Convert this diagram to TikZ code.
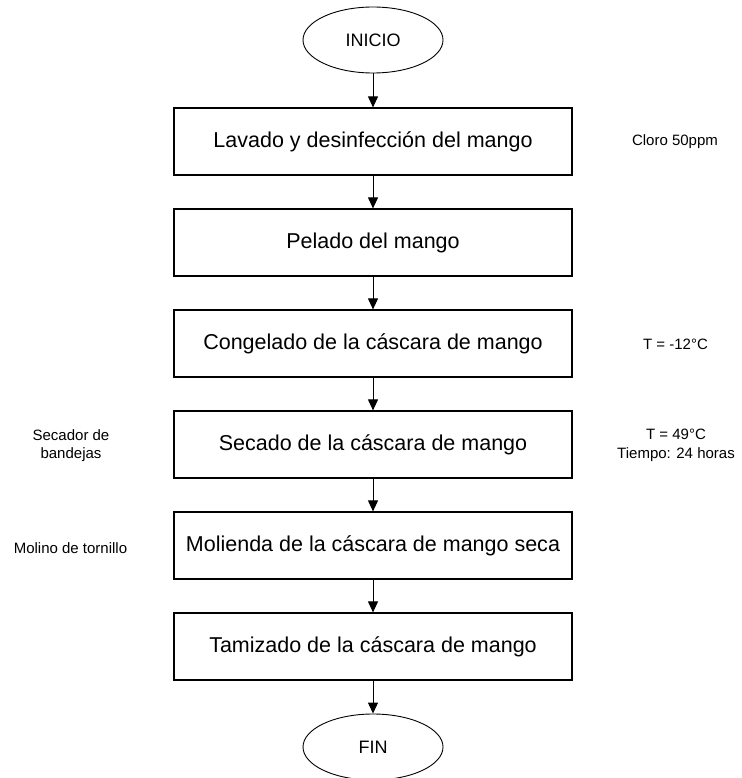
\documentclass[tikz,border=0pt]{standalone}
\usepackage{fontspec}
\setmainfont{Liberation Sans}
\usetikzlibrary{shapes.geometric,arrows.meta}
\begin{document}
\begin{tikzpicture}[x=1pt,y=-1pt,
  procbox/.style={draw=black,line width=1.2pt,minimum width=398pt,minimum height=67pt,inner sep=0pt,font=\fontsize{21.5}{24}\selectfont},
  term/.style={draw=black,line width=0.9pt,ellipse,minimum width=140pt,minimum height=66pt,inner sep=0pt,font=\fontsize{18}{20}\selectfont},
  note/.style={align=center,inner sep=0pt,font=\fontsize{15}{18.5}\selectfont},
  flow/.style={line width=1pt,-{Triangle[width=10pt,length=11pt]}}]
\useasboundingbox (0,0) rectangle (741,778);
\node[term] (inicio) at (373,40) {INICIO};
\node[procbox] (b1) at (373,141.5) {Lavado y desinfección del mango};
\node[procbox] (b2) at (373,242.5) {Pelado del mango};
\node[procbox] (b3) at (373,343.5) {Congelado de la cáscara de mango};
\node[procbox] (b4) at (373,444.5) {Secado de la cáscara de mango};
\node[procbox] (b5) at (373,545.5) {Molienda de la cáscara de mango seca};
\node[procbox] (b6) at (373,646.5) {Tamizado de la cáscara de mango};
\node[term] (fin) at (373,747) {FIN};
\draw[flow] (inicio) -- (b1);
\draw[flow] (b1) -- (b2);
\draw[flow] (b2) -- (b3);
\draw[flow] (b3) -- (b4);
\draw[flow] (b4) -- (b5);
\draw[flow] (b5) -- (b6);
\draw[flow] (b6) -- (fin);
\node[note] (n1) at (675,142) {Cloro 50ppm};
\node[note] (n3) at (675.5,344) {T = -12°C};
\node[note] (n4) at (676,445.5) {T = 49°C\\Tiempo: 24 horas};
\node[note] (n4l) at (71,445.5) {Secador de\\bandejas};
\node[note] (n5l) at (70.5,548) {Molino de tornillo};
\end{tikzpicture}
\end{document}
